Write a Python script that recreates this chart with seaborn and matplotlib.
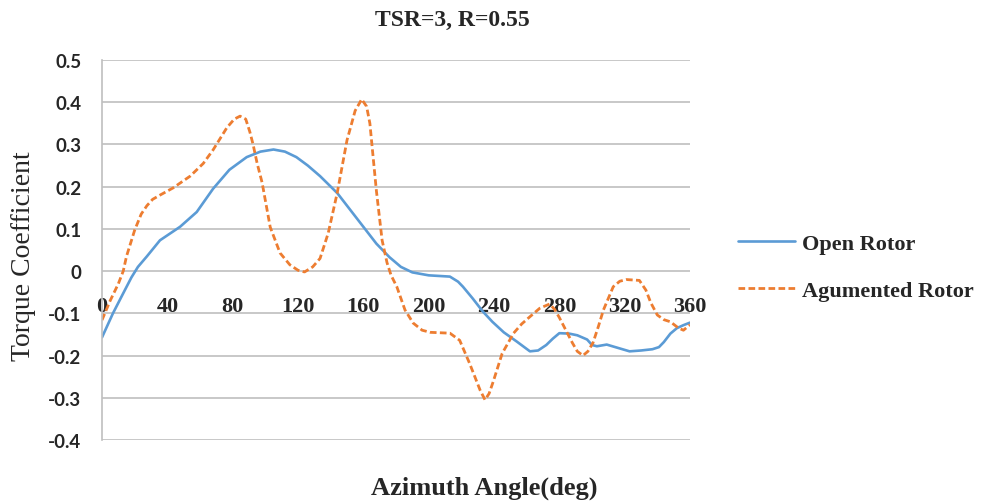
import matplotlib
matplotlib.use("Agg")
import matplotlib.pyplot as plt
import seaborn as sns
import pandas as pd

# ---- data ----
open_deg = [0, 6.7, 12, 18, 22, 27.5, 35.5, 47.8, 58, 68, 78, 88.6, 97, 105, 112, 119,
            126, 133.5, 144, 152, 160, 168, 176, 183, 190, 200, 213, 218, 221, 227, 233,
            239, 246, 254, 262, 267, 272, 276, 280, 286, 291, 297, 300, 303, 309, 316,
            323, 330, 337, 341, 344, 348, 352, 356, 360]
open_cq = [-0.157, -0.10, -0.06, -0.015, 0.01, 0.035, 0.073, 0.105, 0.14, 0.195, 0.24,
           0.27, 0.283, 0.288, 0.283, 0.27, 0.25, 0.225, 0.185, 0.145, 0.105, 0.065,
           0.033, 0.01, -0.003, -0.01, -0.013, -0.025, -0.037, -0.065, -0.095, -0.12,
           -0.145, -0.167, -0.19, -0.188, -0.175, -0.16, -0.147, -0.148, -0.152, -0.162,
           -0.175, -0.178, -0.174, -0.182, -0.19, -0.188, -0.185, -0.18, -0.168, -0.148,
           -0.135, -0.128, -0.122]

aug_deg = [0, 5, 10, 13, 15, 20, 24, 27.5, 31, 35.5, 43.5, 54, 62, 68, 76.5, 81, 84.5,
           88, 90.5, 92.5, 95, 98, 103, 109, 115, 120, 124, 129, 133.5, 138.5, 144, 150,
           155, 159, 162, 164, 168, 171.5, 174.5, 177, 180.5, 185.5, 190.5, 196, 201,
           213, 219, 225, 231.5, 234.5, 237, 239.5, 245, 252, 257, 262, 268, 274, 277,
           280, 284, 288, 291, 294.5, 297.5, 300.6, 304, 307, 313, 317, 321, 329, 333,
           336, 340, 344, 348, 353, 356, 360]
aug_cq = [-0.116, -0.07, -0.03, 0.0, 0.035, 0.097, 0.135, 0.155, 0.17, 0.18, 0.197,
          0.225, 0.255, 0.287, 0.34, 0.36, 0.367, 0.36, 0.33, 0.30, 0.255, 0.21, 0.104,
          0.043, 0.015, 0.002, -0.002, 0.01, 0.03, 0.09, 0.185, 0.31, 0.38, 0.407, 0.39,
          0.35, 0.19, 0.073, 0.02, -0.01, -0.037, -0.092, -0.123, -0.14, -0.145, -0.147,
          -0.164, -0.218, -0.282, -0.305, -0.29, -0.262, -0.195, -0.147, -0.125, -0.108,
          -0.088, -0.078, -0.09, -0.11, -0.14, -0.17, -0.19, -0.2, -0.19, -0.17, -0.13,
          -0.092, -0.037, -0.024, -0.02, -0.022, -0.045, -0.075, -0.104, -0.115, -0.12,
          -0.135, -0.14, -0.127]

x_ticks = [0, 40, 80, 120, 160, 200, 240, 280, 320, 360]
y_ticks = [-0.4, -0.3, -0.2, -0.1, 0, 0.1, 0.2, 0.3, 0.4, 0.5]
y_tick_labels = ["-0.4", "-0.3", "-0.2", "-0.1", "0", "0.1", "0.2", "0.3", "0.4", "0.5"]
series_names = ["Open Rotor", "Agumented Rotor"]

title_text = "TSR=3, R=0.55"
xlabel_text = "Azimuth Angle(deg)"
ylabel_text = "Torque Coefficient"

# ---- plot ----
sns.set_style("white")
plt.rcParams['font.family'] = ['Liberation Serif', 'DejaVu Serif']

df_open = pd.DataFrame({"deg": open_deg, "cq": open_cq})
df_aug = pd.DataFrame({"deg": aug_deg, "cq": aug_cq})

fig = plt.figure(figsize=(9.89, 5.02), dpi=100)
W, H = 989, 502
ax = fig.add_axes([102 / W, 61 / H, 588 / W, 380 / H])

blue = "#5B9BD5"
orange = "#ED7D31"
sns.lineplot(data=df_open, x="deg", y="cq", ax=ax, color=blue, linewidth=1.9,
             label=series_names[0], sort=False)
sns.lineplot(data=df_aug, x="deg", y="cq", ax=ax, color=orange, linewidth=2.0,
             label=series_names[1], sort=False)
ax.lines[1].set_dashes((2.4, 1.2))

# spine positioning first (it resets tick formatting)
for s in ["top", "right"]:
    ax.spines[s].set_visible(False)
ax.spines["bottom"].set_position(("data", 0))
ax.spines["bottom"].set_visible(False)
ax.spines["left"].set_color("#BFBFBF")
ax.spines["left"].set_linewidth(1.2)

ax.set_xlim(0, 360)
ax.set_ylim(-0.4, 0.5)
ax.set_yticks(y_ticks)
ax.set_yticklabels(y_tick_labels, family=['Lato', 'DejaVu Sans'], fontweight='bold',
                   fontsize=13.5)
ax.set_xticks(x_ticks)
ax.set_xticklabels([str(v) for v in x_ticks], fontweight='bold', fontsize=16)
ax.tick_params(axis='y', length=0, pad=15)
ax.tick_params(axis='x', length=0, pad=18)

ax.yaxis.grid(True, color="#BFBFBF", linewidth=1.2)
ax.xaxis.grid(False)
ax.set_axisbelow(True)

ax.set_xlabel("")
ax.set_ylabel("")

fig.text(452 / W, 1 - 20 / H, title_text, ha="center", va="center",
         fontsize=17, fontweight="bold")
fig.text(484 / W, 1 - 488 / H, xlabel_text, ha="center", va="center",
         fontsize=19, fontweight="bold")
fig.text(24 / W, 1 - 256 / H, ylabel_text, ha="center", va="center",
         fontsize=20, rotation=90)

leg = ax.legend(loc="center left", bbox_to_anchor=(738 / W, 1 - 268 / H),
                bbox_transform=fig.transFigure, frameon=False,
                prop={"weight": "bold", "size": 16}, handlelength=2.55,
                handletextpad=0.35, labelspacing=1.2, borderaxespad=0, borderpad=0)

fig.savefig("out.png", dpi=100)
